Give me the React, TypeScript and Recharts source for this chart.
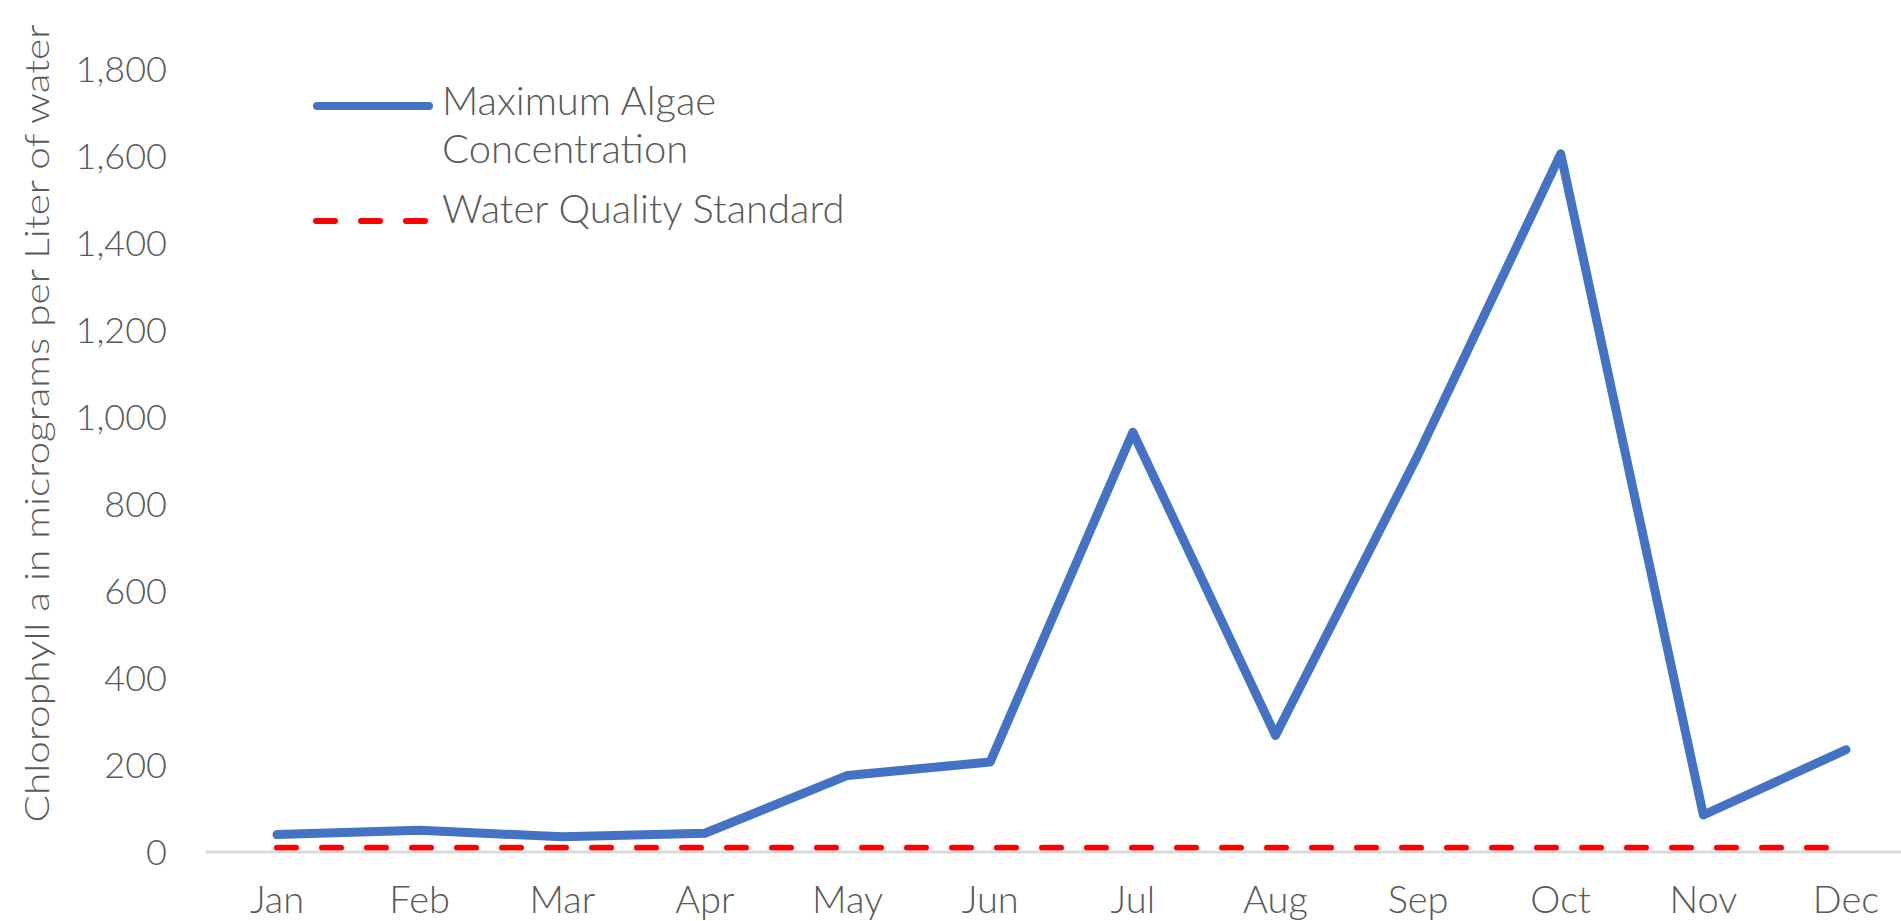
import { LineChart, Line, XAxis, YAxis, Legend } from "recharts";

const months = ["Jan", "Feb", "Mar", "Apr", "May", "Jun", "Jul", "Aug", "Sep", "Oct", "Nov", "Dec"];
const maxAlgae = [40, 50, 35, 43, 176, 207, 965, 268, 913, 1605, 85, 235];
const qualityStandard = [10, 10, 10, 10, 10, 10, 10, 10, 10, 10, 10, 10];
const yTicks = [0, 200, 400, 600, 800, 1000, 1200, 1400, 1600, 1800];

const data = months.map((month, i) => ({
  month,
  algae: maxAlgae[i],
  standard: qualityStandard[i],
}));

const FONT = "Lato, 'Open Sans', sans-serif";
const TEXT = "#595959";

function YTitle({ viewBox }: { viewBox?: { x: number; y: number; width: number; height: number } }) {
  if (!viewBox) return null;
  const x = viewBox.x + 36;
  const y = viewBox.y + viewBox.height / 2 - 37;
  return (
    <text
      x={x}
      y={y}
      transform={`rotate(-90 ${x} ${y})`}
      textAnchor="middle"
      dominantBaseline="central"
      fontFamily={FONT}
      fontWeight={300}
      fontSize={33}
      fill={TEXT}
      textLength={798}
      lengthAdjust="spacingAndGlyphs"
    >
      Chlorophyll a in micrograms per Liter of water
    </text>
  );
}

function LegendBox({ payload }: { payload?: Array<{ value: string; color: string; dataKey?: string }> }) {
  if (!payload) return null;
  return (
    <div style={{ fontFamily: FONT, fontWeight: 300, fontSize: 40, color: TEXT, lineHeight: "48px" }}>
      {payload.map((entry) => {
        const dashed = entry.dataKey === "standard";
        return (
          <div key={entry.value} style={{ display: "flex", alignItems: "flex-start", marginBottom: 12 }}>
            <svg width={129} height={48} style={{ flex: "none" }}>
              {dashed ? (
                <line x1={3} y1={37} x2={114} y2={37} stroke={entry.color} strokeWidth={6} strokeDasharray="19 26" strokeLinecap="round" />
              ) : (
                <line x1={4} y1={30} x2={116} y2={30} stroke={entry.color} strokeWidth={8} strokeLinecap="round" />
              )}
            </svg>
            <div style={{ width: dashed ? 460 : 300 }}>{entry.value}</div>
          </div>
        );
      })}
    </div>
  );
}

export default function App() {
  return (
    <div
      style={{
        position: "absolute",
        left: 0,
        top: 0,
        width: 1901,
        height: 921,
        overflow: "hidden",
        background: "#fff",
      }}
    >
      <LineChart width={1930} height={921} data={data} margin={{ top: 69, right: 13, bottom: 0, left: 0 }}>
        <XAxis
          dataKey="month"
          height={69}
          padding={{ left: 71, right: 71 }}
          tickLine={false}
          tickSize={0}
          tickMargin={34}
          axisLine={{ stroke: "#d9d9d9", strokeWidth: 3 }}
          tick={{ fontFamily: FONT, fontWeight: 300, fontSize: 38, fill: TEXT }}
          interval={0}
        />
        <YAxis
          width={206}
          domain={[0, 1800]}
          ticks={yTicks}
          tickFormatter={(v: number) => v.toLocaleString("en-US")}
          axisLine={false}
          tickLine={false}
          tickSize={0}
          tickMargin={39}
          tick={{ fontFamily: FONT, fontWeight: 300, fontSize: 36, fill: TEXT }}
          label={<YTitle />}
        />
        <Legend
          layout="vertical"
          align="center"
          verticalAlign="middle"
          wrapperStyle={{ left: 313, top: 76, width: 700 }}
          content={<LegendBox />}
        />
        <Line
          type="linear"
          dataKey="algae"
          name="Maximum Algae Concentration"
          stroke="#4472c4"
          strokeWidth={9}
          strokeLinejoin="round"
          strokeLinecap="round"
          dot={false}
          activeDot={false}
          isAnimationActive={false}
        />
        <Line
          type="linear"
          dataKey="standard"
          name="Water Quality Standard"
          stroke="#ff0000"
          strokeWidth={6}
          strokeDasharray="19 26"
          strokeLinecap="round"
          dot={false}
          activeDot={false}
          isAnimationActive={false}
        />
      </LineChart>
    </div>
  );
}
